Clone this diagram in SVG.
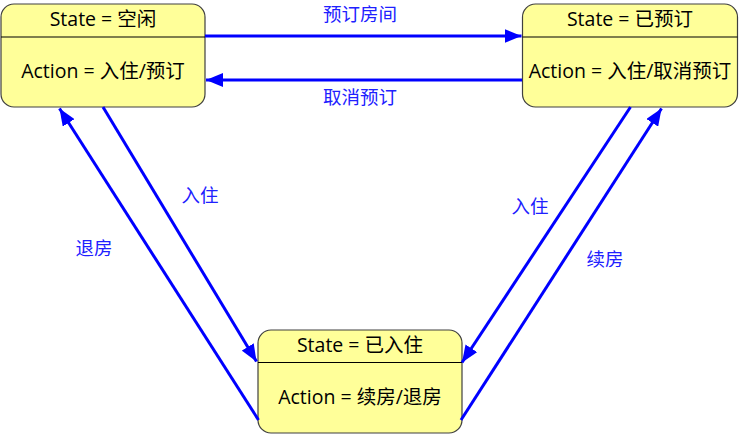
<svg xmlns="http://www.w3.org/2000/svg" width="739" height="435" viewBox="0 0 739 435">
<defs>
<style>
.box{fill:#ffff99;stroke:#404040;stroke-width:1.2}
.div{stroke:#000;stroke-width:1.2}
.nt{font-family:"Open Sans","Noto Sans CJK SC",sans-serif;font-size:19.5px;fill:#000;text-anchor:middle}
.lbl{font-family:"Noto Sans CJK SC","Microsoft YaHei",sans-serif;font-size:18.5px;fill:#2020ff;text-anchor:middle}
.edge{stroke:#0000ff;stroke-width:3;fill:none;marker-end:url(#ah)}
</style>
<marker id="ah" markerWidth="18" markerHeight="14" refX="17" refY="7" orient="auto" markerUnits="userSpaceOnUse">
<path d="M0,0 L17,7 L0,14 Z" fill="#0000ff"/>
</marker>
</defs>
<rect width="739" height="435" fill="#fff"/>
<g id="node-idle">
<rect class="box" x="1" y="4" width="204" height="103" rx="13"/>
<line class="div" x1="1" y1="37" x2="205" y2="37"/>
<text class="nt" x="103" y="26">State = 空闲</text>
<text class="nt" x="103" y="78">Action = 入住/预订</text>
</g>
<g id="node-booked">
<rect class="box" x="522.5" y="4" width="215" height="103" rx="13"/>
<line class="div" x1="522.5" y1="37" x2="737.5" y2="37"/>
<text class="nt" x="630" y="26">State = 已预订</text>
<text class="nt" x="630" y="78">Action = 入住/取消预订</text>
</g>
<g id="node-checkedin">
<rect class="box" x="258" y="330" width="204" height="103" rx="13"/>
<line class="div" x1="258" y1="362.5" x2="462" y2="362.5"/>
<text class="nt" x="360" y="352">State = 已入住</text>
<text class="nt" x="360" y="404">Action = 续房/退房</text>
</g>
<g id="connectors">
<line class="edge" x1="205" y1="36" x2="521.5" y2="36"/>
<line class="edge" x1="522" y1="80" x2="206" y2="80"/>
<line class="edge" x1="103" y1="107" x2="256.5" y2="361.5"/>
<line class="edge" x1="258.5" y1="420" x2="59.5" y2="108.5"/>
<line class="edge" x1="630.5" y1="107" x2="462" y2="362.5"/>
<line class="edge" x1="461" y1="420" x2="661.5" y2="108.5"/>
<text class="lbl" x="360" y="21">预订房间</text>
<text class="lbl" x="360" y="104">取消预订</text>
<text class="lbl" x="200" y="202">入住</text>
<text class="lbl" x="94" y="255">退房</text>
<text class="lbl" x="530" y="213">入住</text>
<text class="lbl" x="605" y="266">续房</text>
</g>
</svg>
